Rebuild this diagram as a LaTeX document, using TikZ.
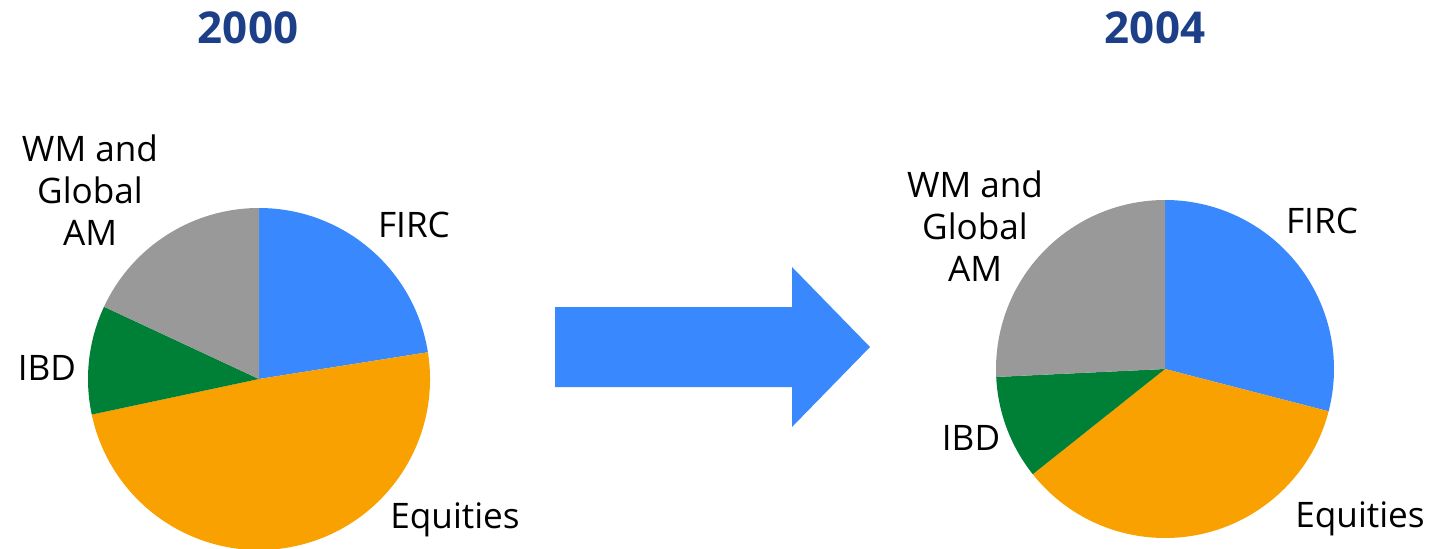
\documentclass[tikz,border=0pt]{standalone}
\usepackage{fontspec}
\setmainfont{Open Sans}

\definecolor{fircblue}{HTML}{3A88FE}
\definecolor{equorange}{HTML}{F9A100}
\definecolor{ibdgreen}{HTML}{007F36}
\definecolor{wmgray}{HTML}{999999}
\definecolor{titleblue}{HTML}{1C3F87}

\begin{document}
\begin{tikzpicture}[x=0.02cm,y=0.02cm,
        yeartitle/.style={font=\fontsize{25}{30}\selectfont\bfseries, text=titleblue, inner sep=0pt},
        slicelabel/.style={font=\fontsize{20}{24}\selectfont, align=center, inner sep=0pt}]
        \useasboundingbox (0,0) rectangle (1432,548);

        % Pie for 2000
        \foreach \a/\b/\c in {9/90/fircblue, -168/9/equorange, 155/192/ibdgreen, 90/155/wmgray} {
          \fill[\c] (259,169) -- ++(\a:171) arc[start angle=\a, end angle=\b, radius=171] -- cycle;
        }

        % Pie for 2004
        \foreach \a/\b/\c in {-14.5/90/fircblue, -141.5/-14.5/equorange, 182.7/218.5/ibdgreen, 90/182.7/wmgray} {
          \fill[\c] (1165,179) -- ++(\a:169) arc[start angle=\a, end angle=\b, radius=169] -- cycle;
        }

        % Block arrow
        \fill[fircblue] (555,241) -- (792,241) -- (792,281) -- (870,201) -- (792,121) -- (792,161) -- (555,161) -- cycle;

        % Titles
        \node[yeartitle] (year00) at (248,520) {2000};
        \node[yeartitle] (year04) at (1155,520) {2004};

        % Labels 2000
        \node[slicelabel] (wm00) at (90,358) {WM and\\Global\\AM};
        \node[slicelabel] (firc00) at (414,323) {FIRC};
        \node[slicelabel] (ibd00) at (47,180) {IBD};
        \node[slicelabel] (eq00) at (455,28) {Equities};

        % Labels 2004
        \node[slicelabel] (wm04) at (975,322) {WM and\\Global\\AM};
        \node[slicelabel] (firc04) at (1322,327) {FIRC};
        \node[slicelabel] (ibd04) at (971,110) {IBD};
        \node[slicelabel] (eq04) at (1360,29) {Equities};
\end{tikzpicture}
\end{document}
